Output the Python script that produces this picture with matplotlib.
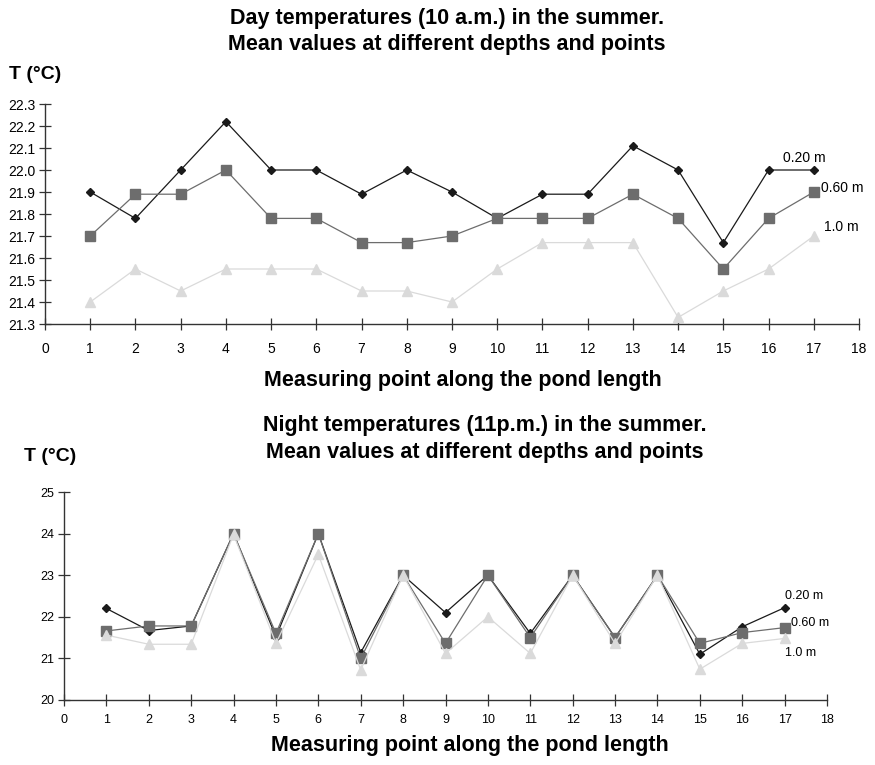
import numpy as np
import matplotlib.pyplot as plt

plt.rcParams["font.family"] = ["Liberation Sans", "DejaVu Sans"]

points = list(range(1, 18))

# Day (10 a.m.)
day_020 = [21.90, 21.78, 22.00, 22.22, 22.00, 22.00, 21.89, 22.00, 21.90,
           21.78, 21.89, 21.89, 22.11, 22.00, 21.67, 22.00, 22.00]
day_060 = [21.70, 21.89, 21.89, 22.00, 21.78, 21.78, 21.67, 21.67, 21.70,
           21.78, 21.78, 21.78, 21.89, 21.78, 21.55, 21.78, 21.90]
day_100 = [21.40, 21.55, 21.45, 21.55, 21.55, 21.55, 21.45, 21.45, 21.40,
           21.55, 21.67, 21.67, 21.67, 21.33, 21.45, 21.55, 21.70]

# Night (11 p.m.)
night_020 = [22.20, 21.67, 21.78, 24.00, 21.52, 24.00, 21.14, 23.00, 22.10,
             23.00, 21.60, 23.00, 21.50, 23.00, 21.10, 21.76, 22.22]
night_060 = [21.66, 21.78, 21.78, 24.00, 21.60, 24.00, 21.00, 23.00, 21.36,
             23.00, 21.50, 23.00, 21.50, 23.00, 21.36, 21.62, 21.74]
night_100 = [21.56, 21.34, 21.34, 23.98, 21.36, 23.50, 20.72, 23.00, 21.12,
             22.00, 21.12, 23.00, 21.36, 23.00, 20.74, 21.36, 21.48]

depth_labels = ["0.20 m", "0.60 m", "1.0 m"]

styles = [
    dict(color="#1a1a1a", marker="D", markersize=4.5, lw=0.9),
    dict(color="#6d6d6d", marker="s", markersize=7.5, lw=0.9),
    dict(color="#dadada", marker="^", markersize=7, lw=0.9),
]

fig = plt.figure(figsize=(8.75, 7.65), dpi=100)


def setup_axis(ax, ylim, yticks, yfmt, tick_fs, xpad):
    ax.set_xlim(0, 18)
    ax.set_ylim(*ylim)
    ax.set_xticks(range(0, 19))
    ax.set_yticks(yticks)
    ax.set_yticklabels([yfmt.format(v) for v in yticks], fontsize=tick_fs)
    ax.set_xticklabels([str(i) for i in range(0, 19)], fontsize=tick_fs)
    for s in ["top", "right"]:
        ax.spines[s].set_visible(False)
    for s in ["left", "bottom"]:
        ax.spines[s].set_color("#333333")
        ax.spines[s].set_linewidth(1.0)
    ax.tick_params(direction="inout", length=8, width=0.9, color="#333333", pad=3)
    ax.tick_params(axis="x", pad=xpad)


# ---- day chart ----
ax1 = fig.add_axes([45 / 875, 1 - 324 / 765, 814 / 875, 220 / 765])
for vals, st in zip([day_020, day_060, day_100], styles):
    ax1.plot(points, vals, clip_on=False, **st)
setup_axis(ax1, (21.3, 22.3), np.round(np.arange(21.3, 22.31, 0.1), 1), "{:.1f}", 10, 9)
ax1.text(16.33, 22.055, depth_labels[0], fontsize=10, va="center")
ax1.text(17.17, 21.92, depth_labels[1], fontsize=10, va="center")
ax1.text(17.23, 21.74, depth_labels[2], fontsize=10, va="center")

fig.text(447 / 875, 1 - 24 / 765, "Day temperatures (10 a.m.) in the summer.",
         fontsize=15.5, weight="bold", ha="center", va="baseline")
fig.text(447 / 875, 1 - 50 / 765, "Mean values at different depths and points",
         fontsize=15.5, weight="bold", ha="center", va="baseline")
fig.text(9 / 875, 1 - 79 / 765, "T (°C)", fontsize=14, weight="bold", va="baseline")
fig.text(463 / 875, 1 - 386 / 765, "Measuring point along the pond length",
         fontsize=15.5, weight="bold", ha="center", va="baseline")

# ---- night chart ----
ax2 = fig.add_axes([64 / 875, 1 - 700 / 765, 763 / 875, 208 / 765])
for vals, st in zip([night_020, night_060, night_100], styles):
    ax2.plot(points, vals, clip_on=False, **st)
setup_axis(ax2, (20, 25), list(range(20, 26)), "{:d}", 9, 6)
ax2.text(17.0, 22.5, depth_labels[0], fontsize=9, va="center")
ax2.text(17.15, 21.85, depth_labels[1], fontsize=9, va="center")
ax2.text(17.0, 21.13, depth_labels[2], fontsize=9, va="center")

fig.text(485 / 875, 1 - 431 / 765, "Night temperatures (11p.m.) in the summer.",
         fontsize=15.5, weight="bold", ha="center", va="baseline")
fig.text(485 / 875, 1 - 458 / 765, "Mean values at different depths and points",
         fontsize=15.5, weight="bold", ha="center", va="baseline")
fig.text(24 / 875, 1 - 461 / 765, "T (°C)", fontsize=14, weight="bold", va="baseline")
fig.text(470 / 875, 1 - 751 / 765, "Measuring point along the pond length",
         fontsize=15.5, weight="bold", ha="center", va="baseline")

fig.savefig("out.png", dpi=100)
